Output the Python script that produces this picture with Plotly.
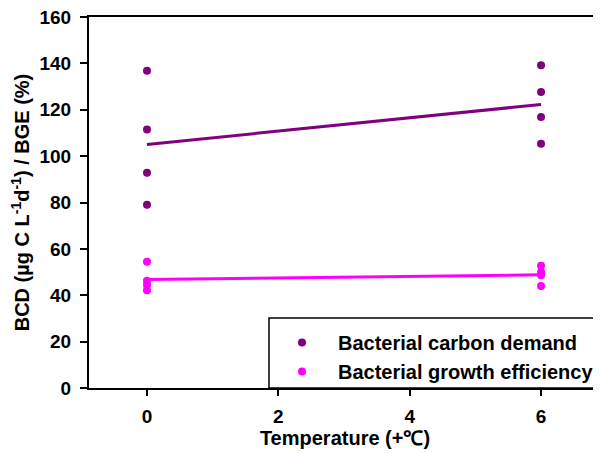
import plotly.graph_objects as go

temp_groups = [0, 6]
bcd_t0 = [136.8, 111.5, 92.8, 79.0]
bcd_t6 = [139.2, 127.7, 116.9, 105.3]
bge_t0 = [54.4, 46.2, 44.4, 42.2]
bge_t6 = [52.7, 50.0, 48.6, 44.0]
x_ticks = [0, 2, 4, 6]
y_ticks = list(range(0, 161, 20))

purple = "#800080"
magenta = "#FF00FF"
FONT = "Liberation Sans"

def mean(v):
    return sum(v) / len(v)

fig = go.Figure()

fig.add_trace(go.Scatter(x=temp_groups, y=[mean(bcd_t0), mean(bcd_t6)], mode="lines",
                         line=dict(color=purple, width=3), showlegend=False, hoverinfo="skip"))
fig.add_trace(go.Scatter(x=temp_groups, y=[mean(bge_t0), mean(bge_t6)], mode="lines",
                         line=dict(color=magenta, width=3), showlegend=False, hoverinfo="skip"))

fig.add_trace(go.Scatter(x=[0]*len(bcd_t0) + [6]*len(bcd_t6), y=bcd_t0 + bcd_t6, mode="markers",
                         marker=dict(color=purple, size=8), name="<b>Bacterial carbon demand</b>"))
fig.add_trace(go.Scatter(x=[0]*len(bge_t0) + [6]*len(bge_t6), y=bge_t0 + bge_t6, mode="markers",
                         marker=dict(color=magenta, size=8), name="<b>Bacterial growth efficiency</b>"))

# page has an 8px body margin: figure origin at (8,8)
W, H = 593, 445
L, T, B = 81, 9, 65
PW = W - L
PH = H - T - B

fig.add_shape(type="rect", xref="paper", yref="paper", x0=(269-89)/PW, x1=1.05,
              y0=0, y1=(388-318)/PH, line=dict(color="black", width=1.5), fillcolor="white", layer="below")

fig.update_layout(
    width=W, height=H,
    margin=dict(l=L, r=0, t=T, b=B),
    plot_bgcolor="white", paper_bgcolor="white",
    font=dict(family=FONT, size=19, color="black"),
    showlegend=True,
    legend=dict(x=(266-89)/PW, y=(388-323)/PH, xanchor="left", yanchor="top",
                bgcolor="rgba(0,0,0,0)", borderwidth=0, itemwidth=62,
                font=dict(family=FONT, size=20, color="black"),
                tracegroupgap=0),
    xaxis=dict(range=[-0.883, 6.913], tickvals=x_ticks, ticktext=[f"<b>{v}</b>" for v in x_ticks],
               showline=True, linecolor="black",
               linewidth=2, mirror=True, ticks="outside", ticklen=6, tickwidth=2, tickcolor="black",
               showgrid=False, zeroline=False, ticklabelstandoff=4,
               tickfont=dict(family=FONT, size=19),
               title=dict(text="<b>Temperature (+℃)</b>", font=dict(family=FONT, size=20), standoff=4)),
    yaxis=dict(range=[0, 160], tickvals=y_ticks,
               ticktext=[f"<b>{v}</b>" for v in y_ticks],
               showline=True, linecolor="black", linewidth=2,
               ticks="outside", ticklen=7, tickwidth=2, tickcolor="black",
               showgrid=False, zeroline=False, ticklabelstandoff=5,
               ticklabeloverflow="allow",
               tickfont=dict(family=FONT, size=19),
               title=dict(text="<b>BCD (µg C L<sup>-1</sup>d<sup>-1</sup>) / BGE (%)</b>",
                          font=dict(family=FONT, size=20), standoff=6)),
)

fig.write_html("out.html")
